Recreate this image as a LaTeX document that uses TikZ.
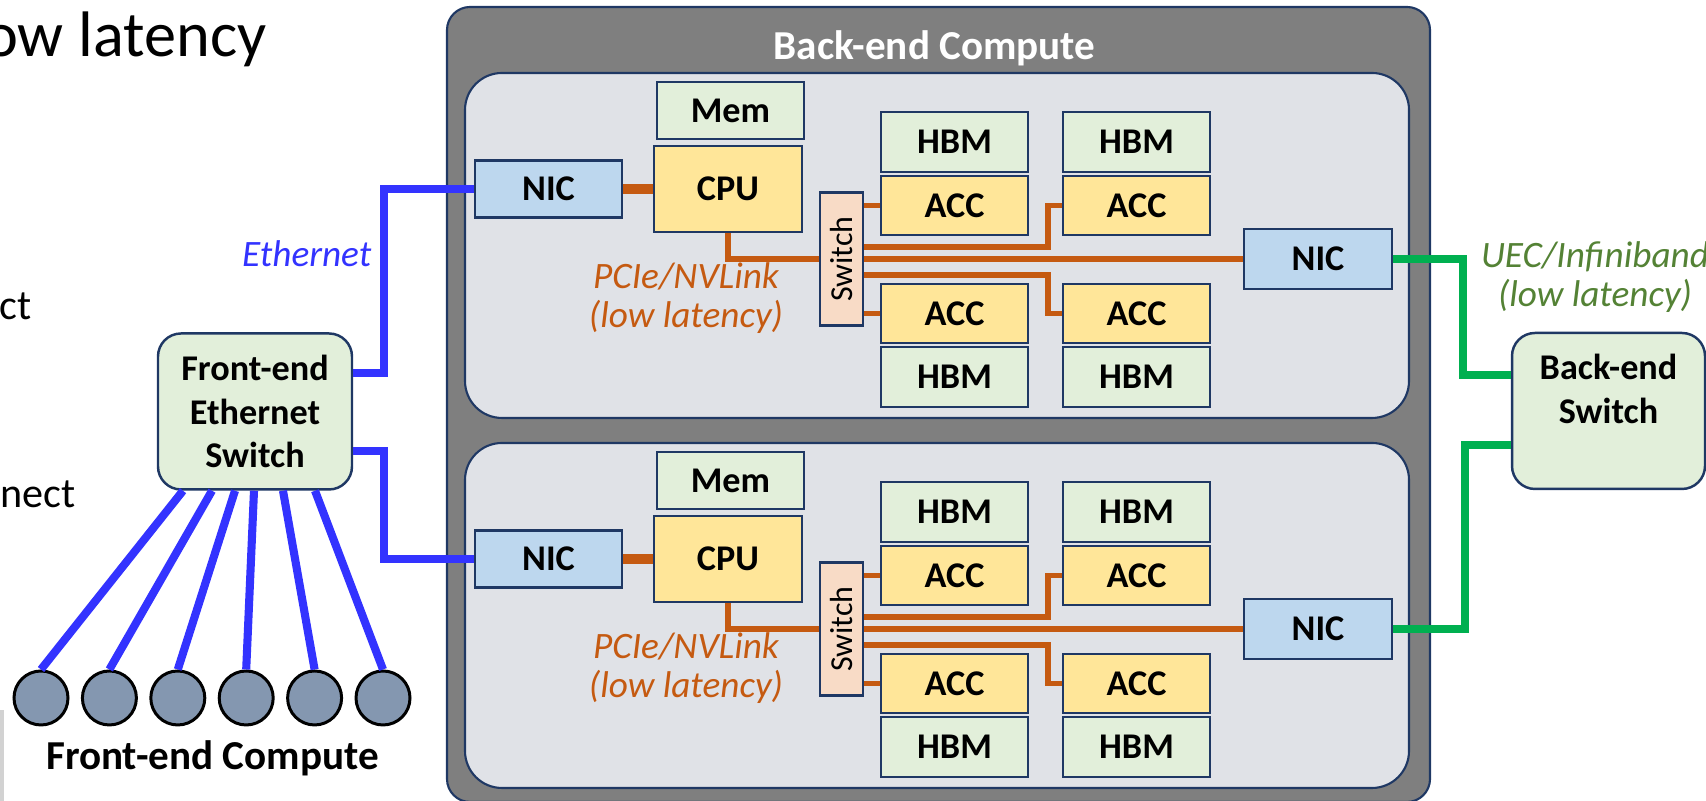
\documentclass[tikz,border=0pt]{standalone}
\usepackage{graphicx}
\usepackage{fontspec}
\setmainfont{Carlito}

\definecolor{navy}{HTML}{1F3864}
\definecolor{boxgray}{HTML}{7F7F7F}
\definecolor{panelgray}{HTML}{E0E2E7}
\definecolor{memgreen}{HTML}{E2EFDA}
\definecolor{cpuyellow}{HTML}{FFE699}
\definecolor{nicblue}{HTML}{BDD7EE}
\definecolor{swpeach}{HTML}{F8DBC6}
\definecolor{nodegray}{HTML}{8497B0}
\definecolor{pcieorange}{HTML}{C55A11}
\definecolor{ethblue}{HTML}{3333FF}
\definecolor{ibgreen}{HTML}{00B050}
\definecolor{ibtext}{HTML}{548235}

\begin{document}
\begin{tikzpicture}[
    unit/.style={draw=navy, line width=0.7pt, inner sep=0pt, minimum width=1.47cm,
      font=\bfseries\fontsize{10.3}{12}\selectfont},
    membox/.style={unit, fill=memgreen, minimum height=0.59cm},
    accbox/.style={unit, fill=cpuyellow, minimum height=0.59cm},
    nicbox/.style={unit, fill=nicblue, minimum height=0.58cm},
    bigswitch/.style={draw=navy, line width=0.7pt, fill=memgreen, rounded corners=0.23cm,
      minimum width=1.94cm, minimum height=1.56cm, inner sep=0pt, align=center,
      font=\bfseries\fontsize{10.3}{12.5}\selectfont},
    pcie/.style={pcieorange, line width=1.55pt},
    eth/.style={ethblue, line width=2.3pt},
    ib/.style={ibgreen, line width=2.3pt},
    linklabel/.style={align=center, font=\itshape\fontsize{10.6}{11}\selectfont},
    host/.style={circle, draw=black, line width=0.85pt, fill=nodegray,
      minimum size=0.54cm, inner sep=0pt}
  ]
  \useasboundingbox (0,0) rectangle (17.06,8.01);

  % slide text cut off by the crop
  \node [anchor=base east, inner sep=0pt, font=\fontsize{18.3}{20}\selectfont] (ttl) at (2.67,7.44) {ow latency};
  \node [anchor=base east, inner sep=0pt, font=\fontsize{12}{14}\selectfont] (frag1) at (0.32,4.81) {ct};
  \node [anchor=base east, inner sep=0pt, font=\fontsize{12}{14}\selectfont] (frag2) at (0.76,2.93) {nect};
  \draw [gray!35, line width=1.2pt] (0.02,0) -- (0.02,0.91);

  % back-end compute
  \draw [fill=boxgray, draw=navy, line width=0.6pt, rounded corners=0.23cm] (4.47,-0.01) rectangle (14.30,7.94);
  \node [white, anchor=base, font=\bfseries\fontsize{11.7}{13}\selectfont] (bect) at (9.345,7.41) {Back-end Compute};

  \foreach \p/\dy in {a/0, b/3.70} {
    \begin{scope}[yshift=-\dy cm]
      \draw [fill=panelgray, draw=navy, line width=0.6pt, rounded corners=0.37cm] (4.65,3.83) rectangle (14.09,7.28);
      \node [nicbox, minimum height=0.57cm] (nicf\p) at (5.485,6.12) {NIC};
      \node [membox, minimum height=0.57cm] (mem\p) at (7.305,6.905) {Mem};
      \node [accbox, minimum width=1.48cm, minimum height=0.86cm] (cpu\p) at (7.28,6.12) {CPU};
      \node [unit, fill=swpeach, minimum width=0.43cm, minimum height=1.33cm,
        font=\fontsize{9.1}{10}\selectfont] (sw\p) at (8.415,5.42) {\rotatebox{90}{Switch}};
      \node [membox, minimum height=0.60cm] (hbma\p) at (9.545,6.59) {HBM};
      \node [membox, minimum height=0.60cm] (hbmb\p) at (11.365,6.59) {HBM};
      \node [accbox] (acca\p) at (9.545,5.955) {ACC};
      \node [accbox] (accb\p) at (11.365,5.955) {ACC};
      \node [accbox] (accc\p) at (9.545,4.875) {ACC};
      \node [accbox] (accd\p) at (11.365,4.875) {ACC};
      \node [membox, minimum height=0.60cm] (hbmc\p) at (9.545,4.24) {HBM};
      \node [membox, minimum height=0.60cm] (hbmd\p) at (11.365,4.24) {HBM};
      \node [nicbox, minimum width=1.48cm, minimum height=0.60cm] (nicb\p) at (13.18,5.42) {NIC};
      \node [linklabel, pcieorange] (pl\p) at (6.86,5.03) {PCIe/NVLink\\(low latency)};

      \draw [pcie, line width=2.6pt] (nicf\p) -- (cpu\p);
      \draw [pcie] (cpu\p.south) |- (sw\p.west);
      \draw [pcie] (sw\p.east |- acca\p) -- (acca\p.west);
      \draw [pcie] (sw\p.east |- accc\p) -- (accc\p.west);
      \draw [pcie] ([yshift=0.12cm]sw\p.east) -| ([xshift=-0.14cm]accb\p.west) -- (accb\p.west);
      \draw [pcie] (sw\p.east) -- (nicb\p.west);
      \draw [pcie] ([yshift=-0.16cm]sw\p.east) -| ([xshift=-0.14cm]accd\p.west) -- (accd\p.west);
    \end{scope}
  }

  % front-end side
  \node [bigswitch] (fesw) at (2.55,3.895) {Front-end\\Ethernet\\Switch};
  \node [linklabel, ethblue, anchor=base east, inner sep=0pt] (ethl) at (3.72,5.34) {Ethernet};
  \draw [eth] ([yshift=0.385cm]fesw.east) -| ([xshift=-0.90cm]nicfa.west) -- (nicfa.west);
  \draw [eth] ([yshift=-0.395cm]fesw.east) -| ([xshift=-0.90cm]nicfb.west) -- (nicfb.west);

  \foreach \i in {1,...,6}
    \node [host] (pc\i) at ({0.41+0.684*(\i-1)},1.03) {};
  \foreach \i/\dx in {1/-0.72, 2/-0.43, 3/-0.20, 4/-0.01, 5/0.28, 6/0.60}
    \draw [eth] ([xshift=\dx cm]fesw.south) -- (pc\i.north);
  \node [anchor=base, font=\bfseries\fontsize{11.7}{13}\selectfont] (fec) at (2.125,0.31) {Front-end Compute};

  % back-end side
  \node [bigswitch, minimum width=1.93cm] (besw) at (16.085,3.90) {Back-end\\Switch\\\mbox{}};
  \node [linklabel, ibtext] (ibl) at (15.95,5.24) {UEC/Infiniband\\(low latency)};
  \draw [ib] (nicba.east) -| ([xshift=-0.48cm,yshift=0.36cm]besw.west) -- ([yshift=0.36cm]besw.west);
  \draw [ib] ([yshift=-0.34cm]besw.west) -| ([xshift=0.72cm]nicbb.east) -- (nicbb.east);
\end{tikzpicture}
\end{document}
